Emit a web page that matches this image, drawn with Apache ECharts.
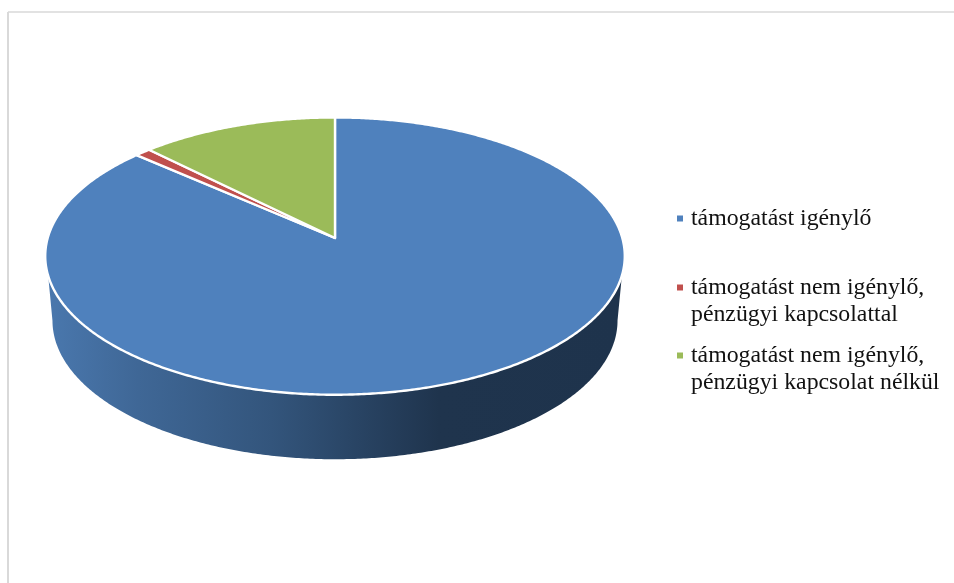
<!DOCTYPE html>
<html>
<head>
<meta charset="utf-8">
<style>html,body{margin:0;padding:0;background:#fff}#chart{width:954px;height:583px}</style>
<script src="https://cdn.jsdelivr.net/npm/echarts@6/dist/echarts.min.js"></script>
</head>
<body>
<div id="chart"></div>
<script>
// Share of each group, in percent
const categories = [
  'támogatást igénylő',
  'támogatást nem igénylő, pénzügyi kapcsolattal',
  'támogatást nem igénylő, pénzügyi kapcsolat nélkül'
];
const shares = [86.5, 1, 12.5];
const colors = ['#4f81bd', '#c0504d', '#9bbb59'];
const legendLines = [
  ['támogatást igénylő'],
  ['támogatást nem igénylő,', 'pénzügyi kapcsolattal'],
  ['támogatást nem igénylő,', 'pénzügyi kapcsolat nélkül']
];
const legendTops = [205, 247, 315];

// Tilted disc: apex of the slices, and the perspective of the top face
const apex = { x: 335, y: 238 };
const persp = { k: 0.1304, A: 287.3, B: 136.3 };
const faceCentreY = 256;
// Lower rim of the disc
const rim = { scaleX: 0.975, centreY: 320.5, topY: 275 };

function facePoint(deg) {
  const t = deg * Math.PI / 180, u = Math.sin(t), v = Math.cos(t);
  const d = 1 + persp.k * v;
  return [apex.x + persp.A * u / d, apex.y - persp.B * v / d];
}
function rimPoint(deg) {
  const p = facePoint(deg);
  return [apex.x + rim.scaleX * (p[0] - apex.x), rim.centreY + (p[1] - faceCentreY)];
}
function sliceRange(i) {
  const total = shares.reduce((a, b) => a + b, 0);
  let start = 0;
  for (let j = 0; j < i; j++) start += shares[j];
  return [start / total * 360, (start + shares[i]) / total * 360];
}
function sectorPoints(a0, a1) {
  const pts = [[apex.x, apex.y]];
  const n = Math.max(8, Math.ceil((a1 - a0) * 2));
  for (let i = 0; i <= n; i++) pts.push(facePoint(a0 + (a1 - a0) * i / n));
  return pts;
}
// Visible side wall of a slice, lying along the front of the disc
function wallPoints(a0, a1) {
  const upper = [], lower = [];
  const n = Math.ceil((a1 - a0) * 2);
  for (let i = 0; i <= n; i++) {
    const a = a0 + (a1 - a0) * i / n;
    const p = facePoint(a), q = rimPoint(a);
    if (p[1] >= rim.topY) upper.push(p);
    if (q[1] >= rim.centreY) lower.push(q);
  }
  return upper.concat(lower.reverse());
}

const wallFill = new echarts.graphic.LinearGradient(46, 0, 624, 0, [
  { offset: 0, color: '#4a78ae' },
  { offset: 0.16, color: '#3f6796' },
  { offset: 0.39, color: '#33557c' },
  { offset: 0.68, color: '#1f344d' },
  { offset: 1, color: '#1e334c' }
], true);

function renderSlice(i) {
  return function (params, api) {
    const r = sliceRange(i);
    const children = [];
    if (i === 0 && api.value(0) > 0) {
      children.push({
        type: 'polygon',
        shape: { points: wallPoints(r[0], r[1]) },
        style: { fill: wallFill }
      });
    }
    children.push({
      type: 'polygon',
      shape: { points: sectorPoints(r[0], r[1]) },
      style: { fill: api.visual('color'), stroke: '#ffffff', lineWidth: 2.4, lineJoin: 'round' }
    });
    return { type: 'group', children };
  };
}

const chart = echarts.init(document.getElementById('chart'), null, { renderer: 'canvas' });
chart.setOption({
  animation: false,
  color: colors,
  backgroundColor: '#ffffff',
  legend: categories.map((name, i) => ({
    data: [name],
    left: 677,
    top: legendTops[i],
    orient: 'vertical',
    padding: 0,
    itemWidth: 6,
    itemHeight: 6,
    icon: 'rect',
    selectedMode: false,
    formatter: () => (legendLines[i].length > 1 ? '\n' : '') + legendLines[i].join('\n'),
    textStyle: {
      fontFamily: '"Liberation Serif"',
      fontSize: 23.8,
      lineHeight: 27,
      color: '#111111',
      padding: [0, 0, 0, 3]
    }
  })),
  graphic: [
    { type: 'line', shape: { x1: 8, y1: 12, x2: 8, y2: 583 }, style: { stroke: '#d9d9d9', lineWidth: 2 } },
    { type: 'line', shape: { x1: 8, y1: 12, x2: 954, y2: 12 }, style: { stroke: '#d9d9d9', lineWidth: 1.5 } }
  ],
  series: categories.map((name, i) => ({
    type: 'custom',
    name,
    coordinateSystem: 'none',
    silent: true,
    z: i === 0 ? 2 : 3,
    itemStyle: { color: colors[i] },
    data: [[shares[i]]],
    renderItem: renderSlice(i)
  }))
});
</script>
</body>
</html>
